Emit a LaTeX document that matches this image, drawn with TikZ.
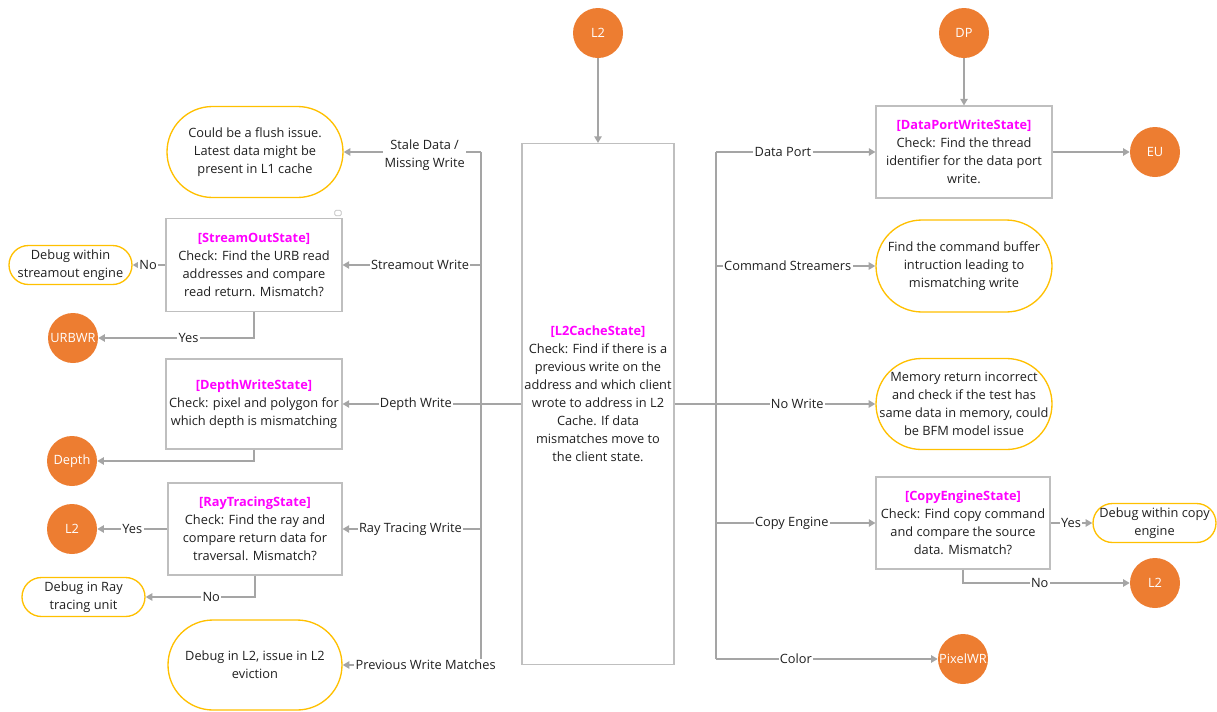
\documentclass[tikz,border=0pt]{standalone}
\usepackage{fontspec}
\setmainfont{Open Sans}
\usetikzlibrary{arrows.meta,shapes.misc}
\definecolor{wire}{HTML}{A5A5A5}
\definecolor{boxline}{HTML}{BFBFBF}
\definecolor{accent}{HTML}{ED7D31}
\definecolor{ovalline}{HTML}{FFC000}
\definecolor{statecol}{HTML}{FF00FF}
\definecolor{ink}{HTML}{202020}
\newcommand\stname[1]{{\color{statecol}\bfseries #1}}
\begin{document}
\begin{tikzpicture}[x=0.75pt,y=-0.75pt,
  font=\fontsize{9.6}{13.5}\selectfont, text=ink,
  sz/.style 2 args={minimum width={#1*0.75pt},minimum height={#2*0.75pt}},
  txt/.style={align=center,inner sep=0pt,text=ink},
  say/.style={label={[txt]center:{#1}}},
  state/.style={draw=boxline,line width=0.8pt,fill=white,rectangle,inner sep=0pt},
  note/.style={draw=ovalline,line width=1pt,fill=white,rounded rectangle,inner sep=0pt},
  port/.style={circle,fill=accent,inner sep=0pt,minimum size=37.5pt},
  portname/.style={label={[txt,text=white]center:{#1}}},
  wire/.style={draw=wire,line width=2pt},
  flow/.style={wire,-{Triangle[length=5pt,width=5.5pt]}},
  lbl/.style={fill=white,inner sep=1pt,align=center,text=ink}]
\useasboundingbox (0,0) rectangle (1217,711);

% ---- central L2 cache state ----
\node[port,portname=L2] (l2top) at (598,33) {};
\node[state,sz={152}{521}] (l2box) at (598,404) {};
\node[txt] (l2text) at (598,394) {\stname{[L2CacheState]}\\Check: Find if there is a\\previous write on the\\address and which client\\wrote to address in L2\\Cache. If data\\mismatches move to\\the client state.};
\draw[flow] (l2top.south) -- (l2box.north);

\coordinate (busL) at (481,404);
\coordinate (busR) at (716,404);

% ---- left branch targets ----
\node[note,sz={176}{91},say={Could be a flush issue.\\Latest data might be\\present in L1 cache}] (stale) at (255,152) {};
\node[state,sz={176}{93},say={\stname{[StreamOutState]}\\Check: Find the URB read\\addresses and compare\\read return. Mismatch?}] (so) at (254,265) {};
\node[draw=boxline,fill=white,line width=0.6pt,rounded corners=1pt,minimum width=5pt,minimum height=4pt,inner sep=0pt] (memo) at (338,213) {};
\node[note,sz={123}{39},say={Debug within\\streamout engine}] (dbgso) at (70.5,265) {};
\node[port,portname=URBWR] (urbwr) at (73,338) {};
\node[state,sz={176}{90},say={\stname{[DepthWriteState]}\\Check: pixel and polygon for\\which depth is mismatching}] (dw) at (254,404) {};
\node[port,portname=Depth] (depth) at (72,461) {};
\node[state,sz={174}{92},say={\stname{[RayTracingState]}\\Check: Find the ray and\\compare return data for\\traversal. Mismatch?}] (rt) at (255,529) {};
\node[port,portname=L2] (l2a) at (72,529) {};
\node[note,sz={123}{39},say={Debug in Ray\\tracing unit}] (dbgray) at (83.5,597) {};
\node[note,sz={174}{90},say={Debug in L2, issue in L2\\eviction}] (prev) at (255,665) {};

% ---- right branch targets ----
\node[port,portname=DP] (dp) at (964,33) {};
\node[state,sz={176}{92},say={\stname{[DataPortWriteState]}\\Check: Find the thread\\identifier for the data port\\write.}] (dpbox) at (964,152) {};
\node[port,portname=EU] (eu) at (1155,152) {};
\node[note,sz={176}{92},say={Find the command buffer\\intruction leading to\\mismatching write}] (cmd) at (964,266) {};
\node[note,sz={176}{91},say={Memory return incorrect\\and check if the test has\\same data in memory, could\\be BFM model issue}] (nowr) at (964,404) {};
\node[state,sz={174}{92},say={\stname{[CopyEngineState]}\\Check: Find copy command\\and compare the source\\data. Mismatch?}] (ce) at (963,523) {};
\node[note,sz={123}{39},say={Debug within copy\\engine}] (dbgcopy) at (1154.5,523) {};
\node[port,portname=L2] (l2b) at (1155,583) {};
\node[port,portname=PixelWR] (pixel) at (963,659) {};

% ---- left bus ----
\draw[wire] (l2box.west) -- (busL);
\draw[wire] (busL |- stale.east) -- (busL |- prev.east);
\draw[flow] (busL |- stale.east) -- node[lbl,pos=0.41,yshift=-2.2pt] {Stale Data /\\Missing Write} (stale.east);
\draw[flow] (busL |- so.east) -- node[lbl,pos=0.44] {Streamout Write} (so.east);
\draw[flow] (busL |- dw.east) -- node[lbl,pos=0.47] {Depth Write} (dw.east);
\draw[flow] (busL |- rt.east) -- node[lbl,pos=0.51] {Ray Tracing Write} (rt.east);
\draw[flow] (busL |- prev.east) -- node[lbl,pos=0.40] {Previous Write Matches} (prev.east);

\draw[flow] (so.west) -- node[lbl,pos=0.53] {No} (dbgso.east);
\draw[flow] (so.south) |- node[lbl,pos=0.71] {Yes} (urbwr.east);
\draw[flow] (dw.south) |- (depth.east);
\draw[flow] (rt.west) -- node[lbl,pos=0.5] {Yes} (l2a.east);
\draw[flow] (rt.south) |- node[lbl,pos=0.7] {No} (dbgray.east);

% ---- right bus ----
\draw[wire] (l2box.east) -- (busR);
\draw[wire] (busR |- dpbox.west) -- (busR |- pixel.west);
\draw[flow] (busR |- dpbox.west) -- node[lbl,pos=0.42] {Data Port} (dpbox.west);
\draw[flow] (busR |- cmd.west) -- node[lbl,pos=0.45] {Command Streamers} (cmd.west);
\draw[flow] (busR |- nowr.west) -- node[lbl,pos=0.51] {No Write} (nowr.west);
\draw[flow] (busR |- ce.west) -- node[lbl,pos=0.475] {Copy Engine} (ce.west);
\draw[flow] (busR |- pixel.west) -- node[lbl,pos=0.36] {Color} (pixel.west);

\draw[flow] (dp.south) -- (dpbox.north);
\draw[flow] (dpbox.east) -- (eu.west);
\draw[flow] (ce.east) -- node[lbl,pos=0.49] {Yes} (dbgcopy.west);
\draw[flow] (ce.south) |- node[lbl,pos=0.73] {No} (l2b.west);
\end{tikzpicture}
\end{document}
